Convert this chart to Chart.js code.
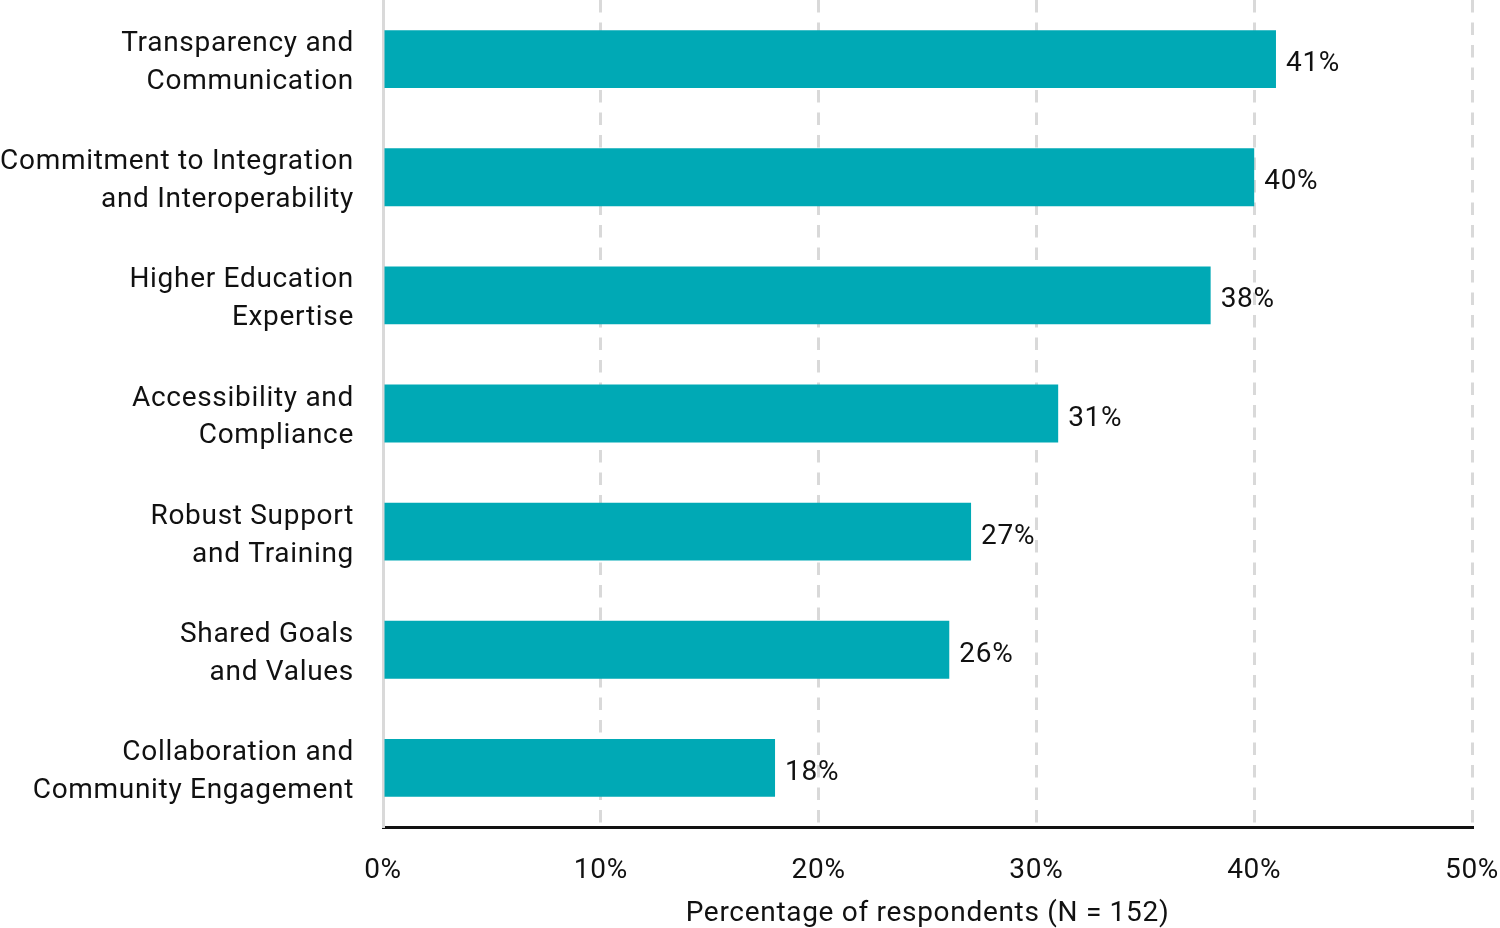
<!DOCTYPE html>
<html>
<head>
<meta charset="utf-8">
<script src="https://cdn.jsdelivr.net/npm/chart.js@4"></script>
<style>
html,body{margin:0;padding:0;background:#fff;}
#wrap{width:1500px;height:928px;position:relative;}
</style>
</head>
<body>
<div id="wrap"><canvas id="c" width="1500" height="928"></canvas></div>
<script>
const categories = [
  ["Transparency and", "Communication"],
  ["Commitment to Integration", "and Interoperability"],
  ["Higher Education", "Expertise"],
  ["Accessibility and", "Compliance"],
  ["Robust Support", "and Training"],
  ["Shared Goals", "and Values"],
  ["Collaboration and", "Community Engagement"]
];
const values = [41, 40, 38, 31, 27, 26, 18];
const xTicks = [0, 10, 20, 30, 40, 50];
const axisTitle = "Percentage of respondents (N = 152)";

const FONT = "Roboto, 'DejaVu Sans', sans-serif";
const canvas = document.getElementById('c');
const SPACING = '0.7px';

const spacingPlugin = {
  id: 'spacing',
  beforeUpdate(chart) { if ('letterSpacing' in chart.ctx) chart.ctx.letterSpacing = SPACING; },
  beforeLayout(chart) { if ('letterSpacing' in chart.ctx) chart.ctx.letterSpacing = SPACING; },
  beforeDraw(chart) { if ('letterSpacing' in chart.ctx) chart.ctx.letterSpacing = SPACING; }
};

const labelPlugin = {
  id: 'valueLabels',
  afterDatasetsDraw(chart) {
    const ctx = chart.ctx;
    const meta = chart.getDatasetMeta(0);
    ctx.save();
    ctx.font = "28px " + FONT;
    ctx.fillStyle = "#111";
    ctx.textAlign = "left";
    ctx.textBaseline = "middle";
    meta.data.forEach((bar, i) => {
      ctx.fillText(values[i] + "%", bar.x + 10, bar.y + 5);
    });
    ctx.restore();
  }
};

new Chart(canvas, {
  type: 'bar',
  data: {
    labels: categories,
    datasets: [{
      data: values,
      backgroundColor: '#00A9B5',
      borderWidth: 0,
      barPercentage: 0.49,
      categoryPercentage: 1.0
    }]
  },
  options: {
    indexAxis: 'y',
    responsive: false,
    animation: false,
    layout: { padding: { top: 0, right: 28, bottom: 0, left: 0 } },
    plugins: { legend: { display: false }, tooltip: { enabled: false } },
    scales: {
      x: {
        min: 0, max: 50,
        afterBuildTicks(scale) { scale.ticks = xTicks.map(v => ({ value: v })); },
        afterFit(scale) {
          scale.height = 101;
          scale.paddingLeft = 0;
          scale.paddingRight = 0;
        },
        ticks: {
          callback: v => v + "%",
          font: { size: 28, family: FONT, lineHeight: 1.2 },
          color: '#111',
          padding: 27,
          maxRotation: 0
        },
        grid: {
          color: '#d9d9d9',
          lineWidth: 3,
          drawTicks: false
        },
        border: { display: true, color: '#111', width: 3, dash: [12.5, 10] },
        title: {
          display: true,
          text: axisTitle,
          font: { size: 28, family: FONT, lineHeight: 1.0 },
          color: '#111',
          padding: { top: 0, bottom: 0 }
        }
      },
      y: {
        afterFit(scale) {
          scale.width = 383;
          scale.paddingTop = 0;
          scale.paddingBottom = 0;
        },
        ticks: {
          font: { size: 28, family: FONT, lineHeight: 1.357 },
          color: '#111',
          padding: 29,
          labelOffset: 4
        },
        grid: { display: false, drawTicks: false },
        border: { display: true, color: '#d9d9d9', width: 3 }
      }
    }
  },
  plugins: [spacingPlugin, labelPlugin]
});
</script>
</body>
</html>
